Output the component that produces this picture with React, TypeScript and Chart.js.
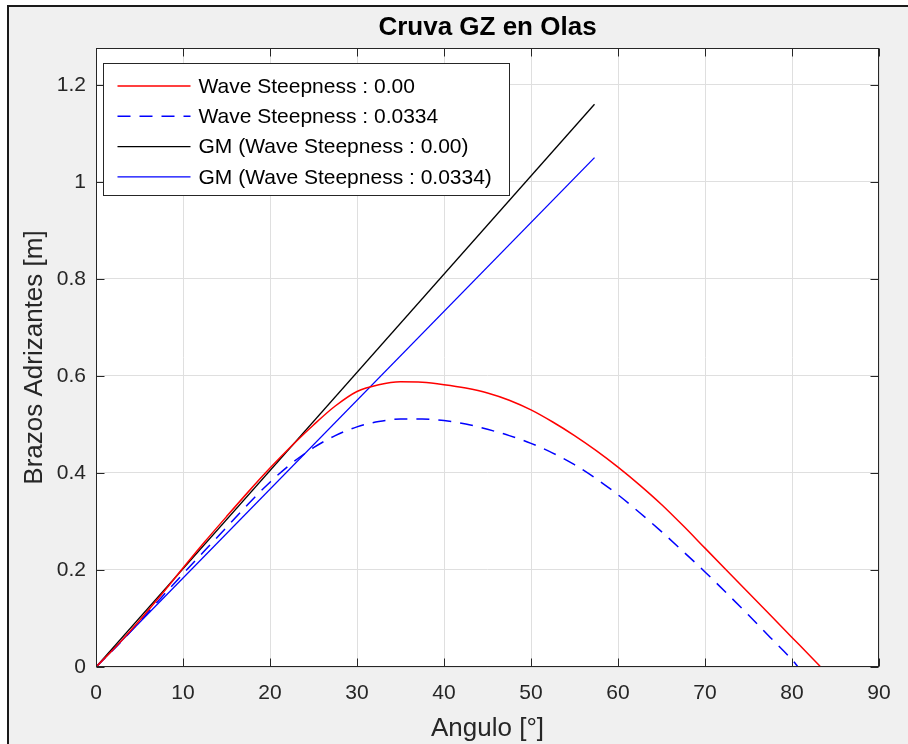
import { useEffect, useRef } from 'react';
import { Chart, registerables } from 'chart.js';

Chart.register(...registerables);

const chartTitle = 'Cruva GZ en Olas';
const xAxisLabel = 'Angulo [°]';
const yAxisLabel = 'Brazos Adrizantes [m]';

const xTickValues = [0, 10, 20, 30, 40, 50, 60, 70, 80, 90];
const xTickLabels = ['0', '10', '20', '30', '40', '50', '60', '70', '80', '90'];
const yTickValues = [0, 0.2, 0.4, 0.6, 0.8, 1, 1.2];
const yTickLabels = ['0', '0.2', '0.4', '0.6', '0.8', '1', '1.2'];

const seriesLabels = [
  'Wave Steepness : 0.00',
  'Wave Steepness : 0.0334',
  'GM (Wave Steepness : 0.00)',
  'GM (Wave Steepness : 0.0334)',
];

const gzAnglesCalm = [0, 2.5, 5, 7.5, 10, 12.5, 15, 17.5, 20, 22.5, 25, 27.5, 30, 32.5, 35, 37.5, 40, 42.5, 45, 47.5, 50, 52.5, 55, 57.5, 60, 62.5, 65, 67.5, 70, 72.5, 75, 77.5, 80, 82.5, 83.3];
const gzValuesCalm = [0, 0.046, 0.096, 0.149, 0.204, 0.258, 0.31, 0.361, 0.41, 0.456, 0.499, 0.538, 0.568, 0.582, 0.588, 0.587, 0.582, 0.575, 0.565, 0.55, 0.53, 0.505, 0.477, 0.446, 0.412, 0.375, 0.335, 0.291, 0.245, 0.199, 0.153, 0.107, 0.061, 0.015, 0];

const gzAnglesWave = [0, 2.5, 5, 7.5, 10, 12.5, 15, 17.5, 20, 22.5, 25, 27.5, 30, 32.5, 35, 37.5, 40, 42.5, 45, 47.5, 50, 52.5, 55, 57.5, 60, 62.5, 65, 67.5, 70, 72.5, 75, 77.5, 80, 80.7];
const gzValuesWave = [0, 0.045, 0.093, 0.143, 0.192, 0.24, 0.288, 0.336, 0.381, 0.42, 0.452, 0.477, 0.495, 0.506, 0.511, 0.511, 0.508, 0.501, 0.49, 0.477, 0.461, 0.441, 0.417, 0.388, 0.355, 0.318, 0.279, 0.238, 0.196, 0.152, 0.107, 0.061, 0.015, 0];

const gmAngles = [0, 57.3];
const gmValuesCalm = [0, 1.16];
const gmValuesWave = [0, 1.05];

const FONT = "'Liberation Sans', Arial, Helvetica, sans-serif";
const AXIS_COLOR = '#262626';

const toPoints = (xs: number[], ys: number[]) => xs.map((x, i) => ({ x, y: ys[i] }));

const framePlugin = {
  id: 'frameBg',
  beforeDraw(chart: any) {
    const { ctx, width, height, chartArea: a } = chart;
    ctx.save();
    ctx.fillStyle = '#ffffff';
    ctx.fillRect(0, 0, width, height);
    ctx.fillStyle = '#f0f0f0';
    ctx.fillRect(8, 6, width - 8, height - 6);
    ctx.strokeStyle = '#1a1a1a';
    ctx.lineWidth = 2;
    ctx.beginPath();
    ctx.moveTo(8, height);
    ctx.lineTo(8, 6);
    ctx.lineTo(width, 6);
    ctx.stroke();
    ctx.fillStyle = '#ffffff';
    ctx.fillRect(a.left, a.top, a.right - a.left, a.bottom - a.top);
    ctx.restore();
  },
};

const boxPlugin = {
  id: 'axesBox',
  afterDatasetsDraw(chart: any) {
    const { ctx, chartArea: a, scales } = chart;
    const L = Math.round(a.left) + 0.5;
    const R = Math.round(a.right) - 0.5;
    const T = Math.round(a.top) + 0.5;
    const B = Math.round(a.bottom) - 0.5;
    const tl = 8;
    ctx.save();
    ctx.strokeStyle = AXIS_COLOR;
    ctx.lineWidth = 1;
    ctx.strokeRect(L, T, R - L, B - T);
    ctx.beginPath();
    xTickValues.forEach((v) => {
      const px = Math.round(scales.x.getPixelForValue(v)) + 0.5;
      ctx.moveTo(px, B);
      ctx.lineTo(px, B - tl);
      ctx.moveTo(px, T);
      ctx.lineTo(px, T + tl);
    });
    yTickValues.forEach((v) => {
      const py = Math.round(scales.y.getPixelForValue(v)) + 0.5;
      ctx.moveTo(L, py);
      ctx.lineTo(L + tl, py);
      ctx.moveTo(R, py);
      ctx.lineTo(R - tl, py);
    });
    ctx.stroke();
    ctx.restore();
  },
};

const overlayPlugin = {
  id: 'overlay',
  afterDraw(chart: any) {
    const { ctx, chartArea: a } = chart;
    ctx.save();
    ctx.fillStyle = '#000000';
    ctx.font = `bold 26px ${FONT}`;
    ctx.textAlign = 'center';
    ctx.textBaseline = 'middle';
    ctx.fillText(chartTitle, (a.left + a.right) / 2, 28);

    const bx = Math.round(a.left + 7) + 0.5;
    const by = Math.round(a.top + 15) + 0.5;
    const bw = 406;
    const bh = 132;
    ctx.fillStyle = '#ffffff';
    ctx.fillRect(bx, by, bw, bh);
    ctx.strokeStyle = AXIS_COLOR;
    ctx.lineWidth = 1;
    ctx.strokeRect(bx, by, bw, bh);
    ctx.font = `21px ${FONT}`;
    ctx.textAlign = 'left';
    ctx.textBaseline = 'middle';
    chart.data.datasets.forEach((ds: any, i: number) => {
      const y = by + 22.5 + i * 30.3;
      ctx.beginPath();
      ctx.strokeStyle = ds.borderColor;
      ctx.lineWidth = ds.borderWidth;
      ctx.setLineDash(ds.borderDash || []);
      ctx.moveTo(bx + 14, y);
      ctx.lineTo(bx + 87, y);
      ctx.stroke();
      ctx.setLineDash([]);
      ctx.fillStyle = '#000000';
      ctx.fillText(ds.label, bx + 95, y + 1);
    });
    ctx.restore();
  },
};

export default function App() {
  const canvasRef = useRef<HTMLCanvasElement | null>(null);

  useEffect(() => {
    if (!canvasRef.current) return;
    const chart = new Chart(canvasRef.current, {
      type: 'line',
      data: {
        datasets: [
          {
            label: seriesLabels[0],
            data: toPoints(gzAnglesCalm, gzValuesCalm),
            borderColor: '#ff0000',
            borderWidth: 1.5,
            pointRadius: 0,
            cubicInterpolationMode: 'monotone',
            fill: false,
          },
          {
            label: seriesLabels[1],
            data: toPoints(gzAnglesWave, gzValuesWave),
            borderColor: '#0000ff',
            borderWidth: 1.5,
            borderDash: [13, 9],
            pointRadius: 0,
            cubicInterpolationMode: 'monotone',
            fill: false,
          },
          {
            label: seriesLabels[2],
            data: toPoints(gmAngles, gmValuesCalm),
            borderColor: '#000000',
            borderWidth: 1.3,
            pointRadius: 0,
            fill: false,
          },
          {
            label: seriesLabels[3],
            data: toPoints(gmAngles, gmValuesWave),
            borderColor: '#0000ff',
            borderWidth: 1.3,
            pointRadius: 0,
            fill: false,
          },
        ],
      } as any,
      options: {
        animation: false,
        responsive: false,
        maintainAspectRatio: false,
        layout: { padding: { top: 48, right: 29, left: 0, bottom: 0 } },
        plugins: {
          legend: { display: false },
          title: { display: false },
          tooltip: { enabled: false },
        },
        scales: {
          x: {
            type: 'linear',
            min: 0,
            max: 90,
            afterBuildTicks: (s: any) => {
              s.ticks = xTickValues.map((v) => ({ value: v }));
            },
            afterFit: (s: any) => {
              s.height = 77;
              s.paddingLeft = 0;
              s.paddingRight = 0;
            },
            ticks: {
              autoSkip: false,
              maxRotation: 0,
              padding: 14,
              color: AXIS_COLOR,
              font: { family: FONT, size: 21 },
              callback: (_v: any, i: number) => xTickLabels[i],
            },
            grid: { color: '#dfdfdf', lineWidth: 1, drawTicks: false },
            border: { display: false },
            title: {
              display: true,
              text: xAxisLabel,
              color: AXIS_COLOR,
              font: { family: FONT, size: 26 },
              padding: { top: 0, bottom: 0 },
            },
          },
          y: {
            type: 'linear',
            min: 0,
            max: 1.276,
            afterBuildTicks: (s: any) => {
              s.ticks = yTickValues.map((v) => ({ value: v }));
            },
            afterFit: (s: any) => {
              s.width = 96;
              s.paddingTop = 0;
              s.paddingBottom = 0;
            },
            ticks: {
              autoSkip: false,
              padding: 10,
              color: AXIS_COLOR,
              font: { family: FONT, size: 21 },
              callback: (_v: any, i: number) => yTickLabels[i],
            },
            grid: { color: '#dfdfdf', lineWidth: 1, drawTicks: false },
            border: { display: false },
            title: {
              display: true,
              text: yAxisLabel,
              color: AXIS_COLOR,
              font: { family: FONT, size: 26 },
              padding: { top: 19, bottom: 0 },
            },
          },
        },
      } as any,
      plugins: [framePlugin, boxPlugin, overlayPlugin],
    });
    return () => chart.destroy();
  }, []);

  return (
    <div style={{ position: 'absolute', left: 0, top: 0, width: 908, height: 744 }}>
      <canvas ref={canvasRef} width={908} height={744} style={{ display: 'block' }} />
    </div>
  );
}
